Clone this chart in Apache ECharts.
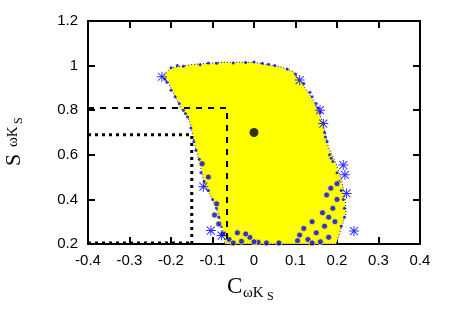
<!DOCTYPE html>
<html><head><meta charset="utf-8">
<script src="https://cdn.jsdelivr.net/npm/echarts@6/dist/echarts.min.js"></script>
<style>html,body{margin:0;padding:0;background:#fff}#c{width:450px;height:315px}</style>
</head><body><div id="c"></div>
<script>
// Axis ticks
var xTicks = [-0.4, -0.3, -0.2, -0.1, 0, 0.1, 0.2, 0.3, 0.4];
var yTicks = [0.2, 0.4, 0.6, 0.8, 1, 1.2];

// Outline of the dense yellow point cloud
var cloudOutline = [
  [-0.222,0.95],[-0.20,0.99],[-0.15,1.005],[-0.074,1.015],[0,1.015],[0.063,0.995],
  [0.095,0.973],[0.11,0.935],[0.143,0.846],[0.165,0.75],[0.179,0.636],[0.198,0.56],
  [0.212,0.48],[0.22,0.40],[0.222,0.34],[0.21,0.27],[0.198,0.2],[-0.07,0.2],
  [-0.072,0.24],[-0.085,0.33],[-0.10,0.40],[-0.118,0.46],[-0.128,0.54],[-0.142,0.64],
  [-0.155,0.75],[-0.178,0.815],[-0.194,0.875],[-0.208,0.93]
];

// Small blue points along the edge of the cloud
var edgePoints = [
  [-0.20,0.99],[-0.17,0.997],[-0.13,1.004],[-0.09,1.01],[-0.05,1.012],[-0.02,1.014],
  [0.02,1.01],[0.05,1.0],[0.08,0.985],[0.10,0.962],[0.12,0.92],[0.135,0.88],[0.15,0.83],
  [0.16,0.79],[-0.21,0.925],[-0.20,0.89],[-0.19,0.86],[-0.18,0.83],[-0.17,0.80],
  [-0.16,0.77],[-0.152,0.72],[-0.145,0.66],[-0.14,0.62],[-0.132,0.58],[-0.128,0.52],
  [-0.12,0.48],[-0.11,0.44],[-0.10,0.40],[-0.09,0.36],[-0.085,0.32],[-0.08,0.28],
  [0.17,0.70],[0.176,0.66],[0.182,0.60],[0.19,0.57],[0.20,0.52],[0.205,0.48],
  [0.21,0.44],[0.215,0.40],[0.218,0.36],[0.218,0.32],[0.21,0.28],
  [-0.185,1.0],[-0.11,1.012],[0.0,1.016],[0.035,1.006],[-0.215,0.94],[-0.165,0.785],
  [0.14,0.86],[0.155,0.81],[0.172,0.68],[0.186,0.585]
];

// Larger blue circles (mostly at the bottom and right edge)
var circlePoints = [
  [-0.06,0.22],[-0.04,0.25],[-0.03,0.212],[-0.01,0.23],[0.01,0.208],[0.03,0.205],
  [-0.075,0.245],[0.11,0.24],[0.13,0.22],[0.15,0.25],[0.16,0.21],[0.17,0.28],
  [0.18,0.32],[0.19,0.36],[0.20,0.40],[0.185,0.45],[0.18,0.23],[0.12,0.27],
  [0.14,0.30],[-0.09,0.38],[-0.11,0.50],[-0.125,0.56],[-0.095,0.33],[0.06,0.205],
  [-0.085,0.29],[0.195,0.3],[-0.05,0.205],[0.0,0.21],[0.14,0.205],[0.165,0.34],
  [0.175,0.42],[0.2,0.47],[0.105,0.215],[-0.02,0.245]
];

// Blue asterisks
var starPoints = [
  [-0.222,0.95],[0.215,0.554],[0.219,0.51],[0.223,0.427],[0.241,0.258],
  [-0.122,0.457],[-0.104,0.26],[-0.078,0.238],[0.159,0.80],[0.167,0.74],[0.11,0.935]
];

// Central point
var centerPoint = [[0, 0.70]];

// Reference lines
var dashedLine = [[-0.4,0.81],[-0.065,0.81],[-0.065,0.2]];
var dottedLine = [[-0.4,0.69],[-0.15,0.69],[-0.15,0.2]];
var dottedBottom = [[-0.4,0.205],[-0.15,0.205]];

var asterisk = 'path://M9,0h2v20h-2z M0,9h20v2h-20z M1.3,2.7L2.7,1.3L18.7,17.3L17.3,18.7z M17.3,1.3L18.7,2.7L2.7,18.7L1.3,17.3z';

var chart = echarts.init(document.getElementById('c'), null, {renderer: 'canvas'});

function xAx(pos, show) {
  return {
    type: 'value', position: pos, min: xTicks[0], max: xTicks[xTicks.length-1], interval: 0.1,
    axisLine: {show: true, onZero: false, lineStyle: {color: '#000', width: 2}},
    axisTick: {show: true, inside: true, length: 7, lineStyle: {color: '#000', width: 2}},
    splitLine: {show: false},
    axisLabel: {show: show, margin: 9, color: '#000', fontSize: 15, fontFamily: 'Liberation Sans',
      formatter: function (v) { return xTicks.indexOf(Math.round(v*10)/10) >= 0 ? String(Math.round(v*10)/10) : ''; }}
  };
}
function yAx(pos, show) {
  return {
    type: 'value', position: pos, min: yTicks[0], max: yTicks[yTicks.length-1], interval: 0.2,
    axisLine: {show: true, onZero: false, lineStyle: {color: '#000', width: 2}},
    axisTick: {show: true, inside: true, length: 7, lineStyle: {color: '#000', width: 2}},
    splitLine: {show: false},
    axisLabel: {show: show, margin: 10, color: '#000', fontSize: 15, fontFamily: 'Liberation Sans',
      formatter: function (v) { return String(Math.round(v*10)/10); }}
  };
}

function t(x, y, text, size) {
  return {type: 'text', x: x, y: y, style: {text: text, font: size + 'px "Liberation Serif"', fill: '#000', align: 'left', verticalAlign: 'top'}};
}

chart.setOption({
  animation: false,
  grid: {left: 88, right: 30, top: 21, bottom: 71},
  xAxis: [xAx('bottom', true), xAx('top', false)],
  yAxis: [yAx('left', true), yAx('right', false)],
  graphic: [
    {type: 'group', x: 0, y: 0, children: [
      t(227, 275, 'C', 23),
      t(243, 286, 'ωK', 15),
      t(267, 291, 'S', 12)
    ]},
    {type: 'group', x: 18, y: 166, rotation: Math.PI/2, children: [
      t(0, -15, 'S', 22),
      t(19, -12, 'ωK', 15),
      t(42, -5, 'S', 12)
    ]}
  ],
  series: [
    {
      type: 'custom', data: [0], z: 1, clip: true,
      renderItem: function (params, api) {
        var pts = cloudOutline.map(function (p) { return api.coord(p); });
        return {type: 'polygon', shape: {points: pts},
          style: {fill: '#ffff00', stroke: '#0000ff', lineWidth: 1, lineDash: [1, 2]}};
      }
    },
    {type: 'scatter', data: edgePoints, symbol: 'circle', symbolSize: 3, z: 2,
      itemStyle: {color: '#0000ff', opacity: 0.8}},
    {type: 'scatter', data: circlePoints, symbol: 'circle', symbolSize: 6, z: 3,
      itemStyle: {color: '#0000ff', borderColor: '#ffff00', borderWidth: 1}},
    {type: 'scatter', data: starPoints, symbol: asterisk, symbolSize: 10, z: 4,
      itemStyle: {color: '#0000ff'}},
    {type: 'line', data: dashedLine, symbol: 'none', z: 5,
      lineStyle: {color: '#000', width: 2, type: [6, 6]}},
    {type: 'line', data: dottedLine, symbol: 'none', z: 5,
      lineStyle: {color: '#000', width: 3, type: [3, 4]}},
    {type: 'line', data: dottedBottom, symbol: 'none', z: 5,
      lineStyle: {color: '#000', width: 3, type: [3, 4]}},
    {type: 'scatter', data: centerPoint, symbol: 'circle', symbolSize: 9, z: 6,
      itemStyle: {color: '#000'}}
  ]
});
</script>
</body></html>
